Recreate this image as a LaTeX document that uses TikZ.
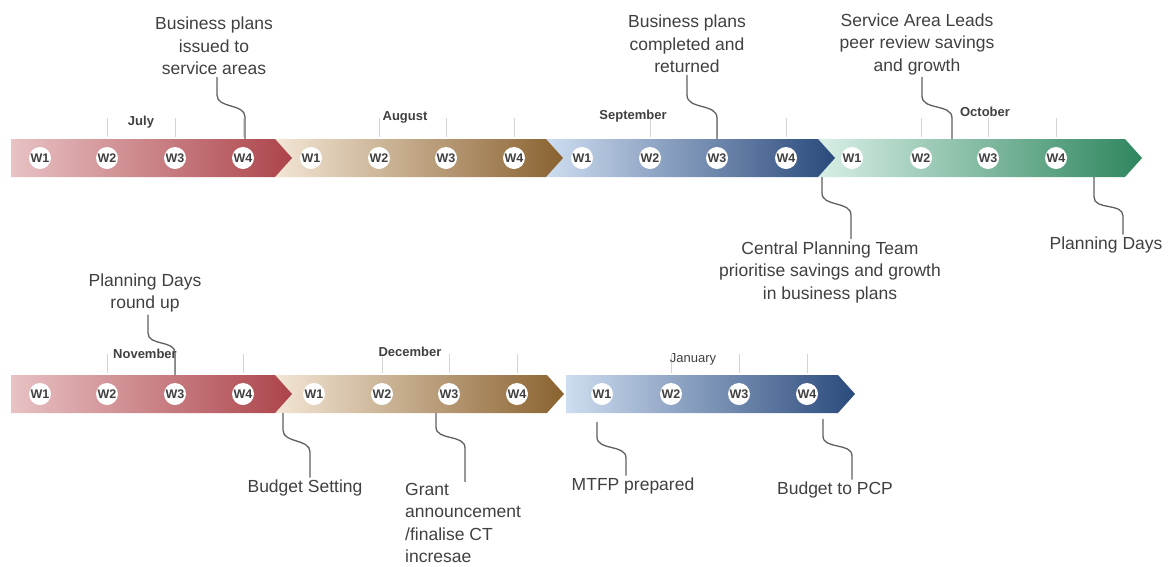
\documentclass[tikz,border=0pt]{standalone}
\usepackage{fontspec}
\setmainfont{Liberation Sans}

\definecolor{txt}{RGB}{64,64,64}
\definecolor{leadgray}{RGB}{95,95,95}
\definecolor{tickgray}{RGB}{212,212,212}
\definecolor{redL}{RGB}{232,194,196}
\definecolor{redR}{RGB}{172,68,74}
\definecolor{tanL}{RGB}{243,230,213}
\definecolor{tanR}{RGB}{138,98,48}
\definecolor{blueL}{RGB}{206,221,240}
\definecolor{blueR}{RGB}{42,74,124}
\definecolor{greenL}{RGB}{216,239,230}
\definecolor{greenR}{RGB}{46,134,94}

% one arrow segment of the timeline: x0, x1, y centre, left colour, right colour
\newcommand\segment[5]{%
  \path[left color=#4, right color=#5] (#1,#3-19) -- (#2,#3-19) -- (#2+17,#3)
    -- (#2,#3+19) -- (#1,#3+19) -- cycle;}

\begin{document}
\begin{tikzpicture}[x=1pt, y=-1pt,
    week/.style={circle, fill=white, inner sep=0pt, minimum size=22pt,
      font=\fontsize{12.5}{12.5}\selectfont\bfseries, text=txt},
    month/.style={font=\fontsize{13}{13}\selectfont\bfseries, text=txt},
    label/.style={font=\fontsize{17.5}{22.5}\selectfont, text=txt, align=center, inner sep=2pt},
    lead/.style={draw=leadgray, line width=1.3pt},
    tick/.style={draw=tickgray, line width=0.7pt}]
  \useasboundingbox (0,0) rectangle (1171,566);

  %tikz timeline bars
  \segment{818}{1125}{158}{greenL}{greenR}
  \segment{546}{818}{158}{blueL}{blueR}
  \segment{275}{546}{158}{tanL}{tanR}
  \segment{11}{275}{158}{redL}{redR}
  \segment{566}{838}{394}{blueL}{blueR}
  \segment{275}{547}{394}{tanL}{tanR}
  \segment{11}{275}{394}{redL}{redR}

  %tikz weeks and ticks
  \foreach \m/\y/\xa/\xb/\xc/\xd in {jul/158/40/107/175/243, aug/158/311/379/446/514,
      sep/158/582/650/717/786, oct/158/852/921/988/1056, nov/394/40/107/175/243,
      dec/394/314/382/449/517, jan/394/602/671/739/807}{
    \foreach \x [count=\i] in {\xa,\xb,\xc,\xd}{
      \node[week] (\m\i) at (\x,\y) {W\i};
      \ifnum\i>1 \draw[tick] (\x,\y-40) -- (\x,\y-21); \fi
    }
  }

  %tikz months
  \node[month] (july) at (141,122) {July};
  \node[month] (august) at (405,117) {August};
  \node[month] (september) at (633,116) {September};
  \node[month] (october) at (985,112) {October};
  \node[month] (november) at (145,354) {November};
  \node[month] (december) at (410,352) {December};
  \node[month, font=\fontsize{13}{13}\selectfont] (january) at (693,359) {January};

  %tikz events
  \node[label] (issued) at (214,46) {Business plans\\issued to\\service areas};
  \node[label] (returned) at (687,44) {Business plans\\completed and\\returned};
  \node[label] (leads) at (917,44) {Service Area Leads\\peer review savings\\and growth};
  \node[label] (cpt) at (830,272) {Central Planning Team\\prioritise savings and growth\\in business plans};
  \node[label] (pdays) at (1106,245) {Planning Days};
  \node[label] (roundup) at (145,293) {Planning Days\\round up};
  \node[label] (setting) at (305,488) {Budget Setting};
  \node[label, align=left, anchor=west, inner sep=1pt] (grant) at (404,523) {Grant\\announcement\\/finalise CT\\incresae};
  \node[label] (mtfp) at (633,486) {MTFP prepared};
  \node[label] (pcp) at (835,490) {Budget to PCP};

  \coordinate (p1) at (245,139);
  \coordinate (p2) at (717,139);
  \coordinate (p3) at (952,139);
  \coordinate (p4) at (822,177);
  \coordinate (p5) at (1094,177);
  \coordinate (p6) at (175,375);
  \coordinate (p7) at (283,413);
  \coordinate (p8) at (436,413);
  \coordinate (p9) at (597,422);
  \coordinate (p10) at (823,419);

  %tikz leaders
  \draw[lead] (p1) -- ++(0,-22) to[out=90,in=-90] ++(-28,-22) coordinate (k1) -- (k1 |- issued.south);
  \draw[lead] (p2) -- ++(0,-21) to[out=90,in=-90] ++(-30,-23) coordinate (k2) -- (k2 |- returned.south);
  \draw[lead] (p3) -- ++(0,-21) to[out=90,in=-90] ++(-30,-22) coordinate (k3) -- (k3 |- leads.south);
  \draw[lead] (p4) -- ++(0,16) to[out=-90,in=90] ++(29,22) coordinate (k4) -- (k4 |- cpt.north);
  \draw[lead] (p5) -- ++(0,20) to[out=-90,in=90] ++(29,19) coordinate (k5) -- (k5 |- pdays.north);
  \draw[lead] (p6) -- ++(0,-22) to[out=90,in=-90] ++(-27,-20) coordinate (k6) -- (k6 |- roundup.south);
  \draw[lead] (p7) -- ++(0,17) to[out=-90,in=90] ++(27,22) coordinate (k7) -- (k7 |- setting.north);
  \draw[lead] (p8) -- ++(0,14) to[out=-90,in=90] ++(29,21) coordinate (k8) -- (k8 |- grant.north);
  \draw[lead] (p9) -- ++(0,15) to[out=-90,in=90] ++(29,21) coordinate (k9) -- (k9 |- mtfp.north);
  \draw[lead] (p10) -- ++(0,17) to[out=-90,in=90] ++(29,20) coordinate (k10) -- (k10 |- pcp.north);
\end{tikzpicture}
\end{document}
